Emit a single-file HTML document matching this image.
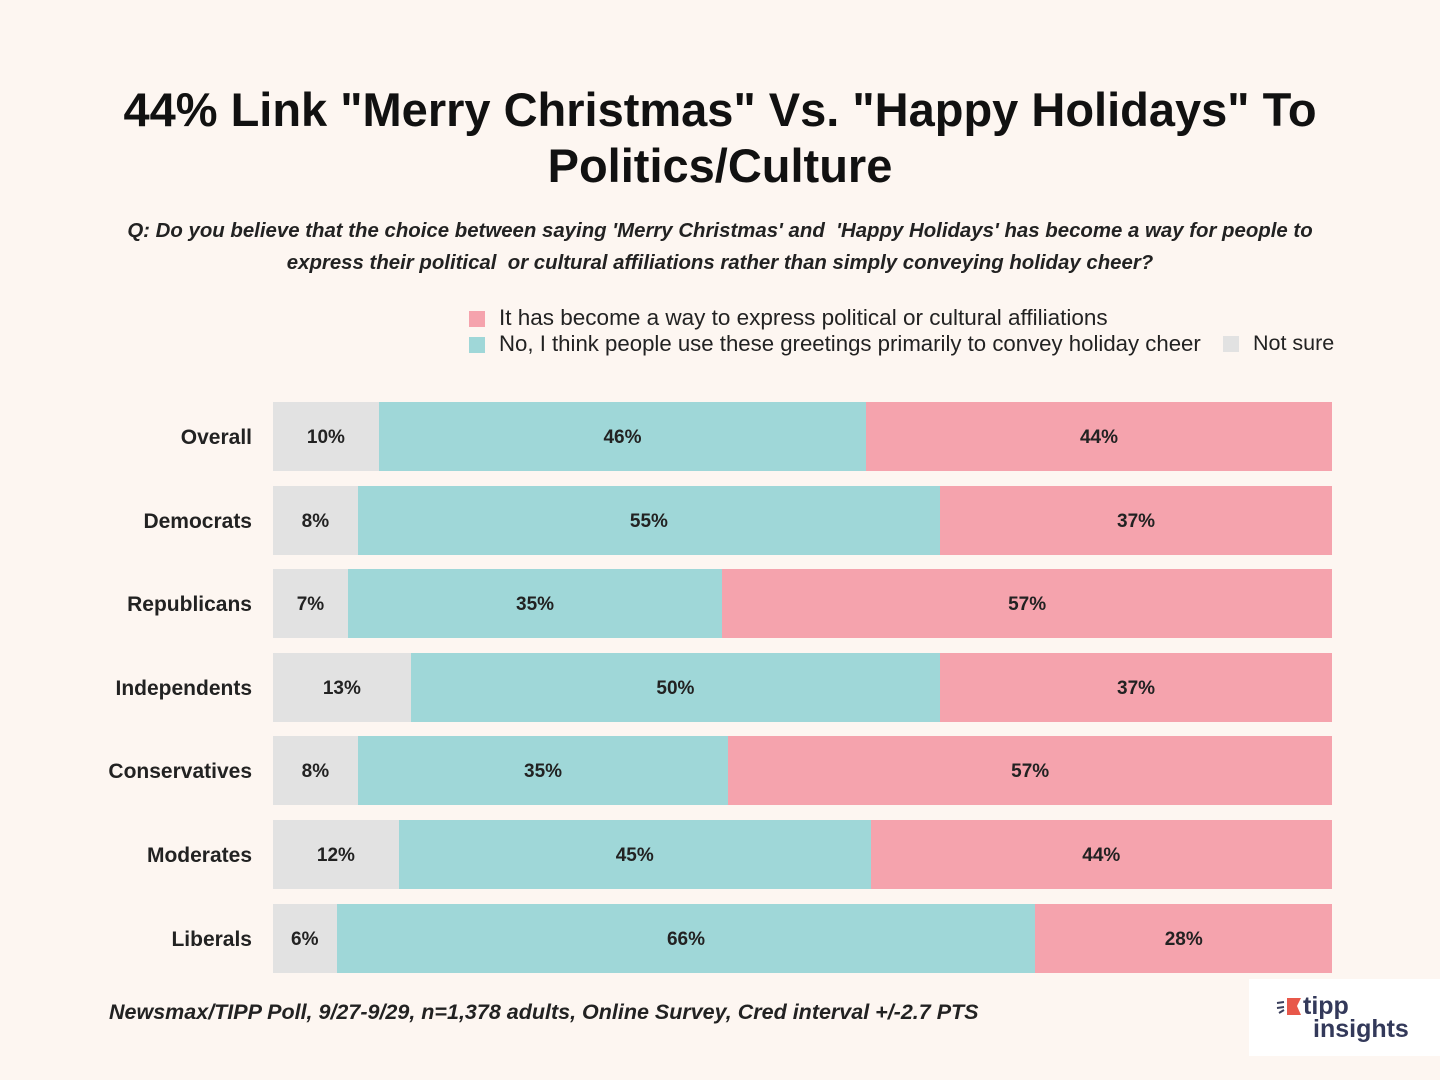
<!DOCTYPE html>
<html><head><meta charset="utf-8"><style>
body{margin:0;width:1440px;height:1080px;background:#fdf6f1;font-family:"Liberation Sans",sans-serif;position:relative;overflow:hidden;color:#111}
.abs{position:absolute}
#title{left:0;width:1440px;top:82px;text-align:center;font-weight:bold;font-size:47px;line-height:56px;color:#111}
#q{left:0;width:1440px;top:215px;text-align:center;font-style:italic;font-weight:bold;font-size:20.4px;line-height:32px;color:#222}
.leg{font-size:21.5px;color:#222;white-space:nowrap}
.sw{display:inline-block;width:16px;height:16px;vertical-align:-2px;margin-right:14px}
.cat{font-size:21px;font-weight:bold;right:1188px;text-align:right;color:#222}
.val{font-size:19px;font-weight:bold;color:#222;text-align:center}
#src{left:109px;top:1000px;font-style:italic;font-weight:bold;font-size:21.5px;color:#222;white-space:nowrap}
</style></head><body>
<div id="title" class="abs">44% Link "Merry Christmas" Vs. "Happy Holidays" To<br>Politics/Culture</div>
<div id="q" class="abs">Q: Do you believe that the choice between saying 'Merry Christmas' and &nbsp;'Happy Holidays' has become a way for people to<br>express their political &nbsp;or cultural affiliations rather than simply conveying holiday cheer?</div>
<div class="abs leg" style="left:469px;top:305px;font-size:22.5px"><span class="sw" style="background:#f5a3ad"></span>It has become a way to express political or cultural affiliations</div>
<div class="abs leg" style="left:469px;top:331px;font-size:22.2px"><span class="sw" style="background:#9fd7d8"></span>No, I think people use these greetings primarily to convey holiday cheer</div>
<div class="abs leg" style="left:1223px;top:331px"><span class="sw" style="background:#e2e2e2"></span>Not sure</div>
<div id="chart" class="abs" style="left:0;top:0;width:1440px;height:1080px"></div>
<div id="src" class="abs">Newsmax/TIPP Poll, 9/27-9/29, n=1,378 adults, Online Survey, Cred interval +/-2.7 PTS</div>
<div class="abs" style="left:1249px;top:979px;width:191px;height:77px;background:#fff">
<svg width="191" height="77"><g stroke="#3a3f5c" stroke-width="2"><line x1="28" y1="24" x2="35" y2="23"/><line x1="28" y1="29" x2="35" y2="28"/><line x1="30" y1="34" x2="35" y2="31"/></g>
<polygon points="38,19 52,19 48,27 52,36 38,36" fill="#e8584a"/>
<text x="54" y="35" font-family="Liberation Sans" font-weight="bold" font-size="25" fill="#33395a">tipp</text>
<text x="64" y="58" font-family="Liberation Sans" font-weight="bold" font-size="25" fill="#33395a">insights</text></svg></div>
<script>
const categories=["Overall","Democrats","Republicans","Independents","Conservatives","Moderates","Liberals"];
const notSure=[10,8,7,13,8,12,6];
const cheer=[46,55,35,50,35,45,66];
const political=[44,37,57,37,57,44,28];
const chart=document.getElementById('chart');
const x0=273,x1=1332,y0=402,step=83.6,bh=69;
function xs(v,total){return (x1-x0)*v/total;}
categories.forEach((c,i)=>{
  const y=y0+i*step,total=notSure[i]+cheer[i]+political[i];
  const lab=document.createElement('div');lab.className='abs cat';lab.style.top=(y+24)+'px';lab.textContent=c;
  
  
  chart.appendChild(lab);
  let x=x0;
  [[notSure[i],'#e2e2e2','not-sure'],[cheer[i],'#9fd7d8','cheer'],[political[i],'#f5a3ad','political']].forEach(([v,col,n])=>{
    const w=xs(v,total);
    const b=document.createElement('div');b.className='abs val';
    b.style.cssText+=`left:${x}px;top:${y}px;width:${w}px;height:${bh}px;background:${col};line-height:${bh+2}px`;
    b.textContent=v+'%';
    
    
    chart.appendChild(b);x+=w;
  });
});
</script>
</body></html>
